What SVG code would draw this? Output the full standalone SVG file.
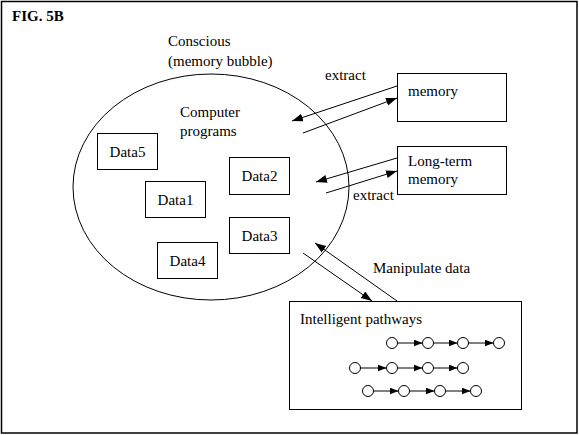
<svg xmlns="http://www.w3.org/2000/svg" width="579" height="435" viewBox="0 0 579 435">
<defs>
<marker id="ah" markerUnits="userSpaceOnUse" markerWidth="12" markerHeight="10" refX="11" refY="4" orient="auto">
<path d="M0,0 L11,4 L0,8 Z" fill="#000"/>
</marker>
<marker id="sh" markerUnits="userSpaceOnUse" markerWidth="10" markerHeight="8" refX="9" refY="3.5" orient="auto">
<path d="M0,0 L9,3.5 L0,7 Z" fill="#000"/>
</marker>
<style>
text{font-family:"Liberation Serif","Times New Roman",serif;font-size:15px;fill:#000}
.b{fill:#fff;stroke:#000;stroke-width:1}
.c{fill:#fff;stroke:#000;stroke-width:1}
.l{stroke:#000;stroke-width:1;fill:none}
</style>
</defs>
<rect x="0" y="0" width="579" height="435" fill="#fff"/>
<rect x="1.5" y="1.5" width="575.5" height="431.5" fill="none" stroke="#000" stroke-width="1.5"/>
<text x="12" y="21" style="font-weight:bold;font-size:15px">FIG. 5B</text>
<g id="bubble">
<ellipse cx="211" cy="187" rx="138" ry="113" fill="none" stroke="#000" stroke-width="1"/>
<text x="168" y="46">Conscious</text>
<text x="168" y="66">(memory bubble)</text>
<text x="180" y="117">Computer</text>
<text x="180" y="136">programs</text>
</g>
<g id="data5"><rect class="b" x="97.5" y="133.5" width="60" height="36"/><text x="127.5" y="157" text-anchor="middle">Data5</text></g>
<g id="data1"><rect class="b" x="145.5" y="181.5" width="60" height="36"/><text x="175.5" y="205" text-anchor="middle">Data1</text></g>
<g id="data2"><rect class="b" x="229.5" y="157.5" width="60" height="37"/><text x="259.5" y="181" text-anchor="middle">Data2</text></g>
<g id="data3"><rect class="b" x="229.5" y="217.5" width="60" height="36"/><text x="259.5" y="241" text-anchor="middle">Data3</text></g>
<g id="data4"><rect class="b" x="157.5" y="242.5" width="60" height="36"/><text x="187.5" y="266" text-anchor="middle">Data4</text></g>
<g id="memory"><rect class="b" x="397.5" y="73.5" width="109" height="48"/><text x="408" y="96">memory</text></g>
<g id="longterm"><rect class="b" x="397.5" y="146.5" width="109" height="48"/><text x="408" y="166">Long-term</text><text x="408" y="184">memory</text></g>
<g id="pathways">
<rect class="b" x="289.5" y="301.5" width="232" height="108"/>
<text x="300" y="324">Intelligent pathways</text>
<g id="row1">
<circle class="c" cx="392" cy="343" r="5.5"/><circle class="c" cx="428" cy="343" r="5.5"/><circle class="c" cx="463" cy="343" r="5.5"/><circle class="c" cx="499" cy="343" r="5.5"/>
<line class="l" x1="397.5" y1="343" x2="422.5" y2="343" marker-end="url(#sh)"/>
<line class="l" x1="433.5" y1="343" x2="457.5" y2="343" marker-end="url(#sh)"/>
<line class="l" x1="468.5" y1="343" x2="493.5" y2="343" marker-end="url(#sh)"/>
</g>
<g id="row2">
<circle class="c" cx="355" cy="368" r="5.5"/><circle class="c" cx="392" cy="368" r="5.5"/><circle class="c" cx="428" cy="368" r="5.5"/><circle class="c" cx="463" cy="368" r="5.5"/>
<line class="l" x1="360.5" y1="368" x2="386.5" y2="368" marker-end="url(#sh)"/>
<line class="l" x1="397.5" y1="368" x2="422.5" y2="368" marker-end="url(#sh)"/>
<line class="l" x1="433.5" y1="368" x2="457.5" y2="368" marker-end="url(#sh)"/>
</g>
<g id="row3">
<circle class="c" cx="368" cy="391" r="5.5"/><circle class="c" cx="404" cy="391" r="5.5"/><circle class="c" cx="440" cy="391" r="5.5"/><circle class="c" cx="476" cy="391" r="5.5"/>
<line class="l" x1="373.5" y1="391" x2="398.5" y2="391" marker-end="url(#sh)"/>
<line class="l" x1="409.5" y1="391" x2="434.5" y2="391" marker-end="url(#sh)"/>
<line class="l" x1="445.5" y1="391" x2="470.5" y2="391" marker-end="url(#sh)"/>
</g>
</g>
<g id="connectors">
<line class="l" x1="397" y1="86" x2="292" y2="121" marker-end="url(#ah)"/>
<line class="l" x1="303" y1="133" x2="397" y2="98" marker-end="url(#ah)"/>
<line class="l" x1="397" y1="158" x2="316" y2="182" marker-end="url(#ah)"/>
<line class="l" x1="326" y1="193" x2="397" y2="171" marker-end="url(#ah)"/>
<line class="l" x1="397" y1="301" x2="315" y2="243" marker-end="url(#ah)"/>
<line class="l" x1="303" y1="253" x2="372" y2="301" marker-end="url(#ah)"/>
<text x="325" y="80">extract</text>
<text x="353" y="200">extract</text>
<text x="373" y="273">Manipulate data</text>
</g>
</svg>
